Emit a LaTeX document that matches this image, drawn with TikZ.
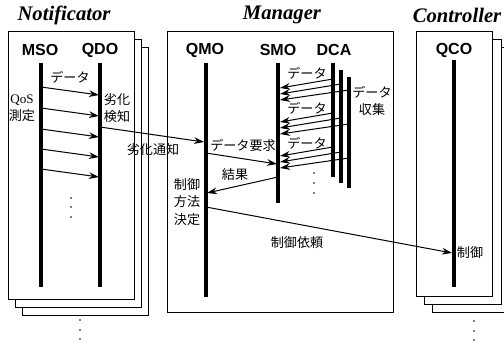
\documentclass[tikz,border=0pt]{standalone}
\usepackage{fontspec}
\setmainfont{Liberation Serif}
\setsansfont{Liberation Sans}
\newfontfamily\jpfont{Noto Sans CJK JP}
\usepackage{tikz}
\usetikzlibrary{arrows.meta}
\tikzset{every picture/.style={line width=0.75pt}}
\tikzset{
	panel/.style={draw, fill=white, line width=0.75pt},
	life/.style={line width=2.5pt},
	msg/.style={-{Stealth[length=7.5pt,width=5pt]}, line width=0.75pt},
	title/.style={font=\fontsize{15.5}{17}\selectfont\bfseries\itshape},
	obj/.style={font=\fontsize{12}{14}\selectfont\sffamily\bfseries},
	jp/.style={font=\fontsize{9.8}{12.8}\selectfont\jpfont, align=center, inner sep=1pt}
}

\begin{document}
\begin{tikzpicture}[x=0.75pt,y=0.75pt,yscale=-1,xscale=1]
	\useasboundingbox (0,0) rectangle (504,346);
	
	%Shape: Rectangle [Notificator stack]
	\draw[panel] (22,48) rectangle (148,315);
	\draw[panel] (15,40) rectangle (141,307);
	\draw[panel] (8,32) rectangle (134,299);
	%Shape: Rectangle [Manager]
	\draw[panel] (167,32) rectangle (393,312);
	%Shape: Rectangle [Controller stack]
	\draw[panel] (504,48) -- (432,48) -- (432,312) -- (504,312);
	\draw[panel] (424,40) rectangle (501,304);
	\draw[panel] (416,32) rectangle (492,296);
	
	% Title Nodes
	\node[title] (ntitle) at (64,15) {Notificator};
	\node[title] (mtitle) at (282,15) {Manager};
	\node[title] (ctitle) at (457,15) {Controller};
	
	% Object Nodes
	\node[obj] (mso) at (40,50) {MSO};
	\node[obj] (qdo) at (100,50) {QDO};
	\node[obj] (qmo) at (205,50) {QMO};
	\node[obj] (smo) at (278,50) {SMO};
	\node[obj] (dca) at (334,50) {DCA};
	\node[obj] (qco) at (454,50) {QCO};
	
	%Straight Lines [lifelines]
	\coordinate (mso top) at (41,63);   \coordinate (mso bot) at (41,287);
	\coordinate (qdo top) at (100,63);  \coordinate (qdo bot) at (100,287);
	\coordinate (qmo top) at (206,63);  \coordinate (qmo bot) at (206,297);
	\coordinate (smo top) at (278,63);  \coordinate (smo bot) at (278,203);
	\coordinate (dca1 top) at (333,63); \coordinate (dca1 bot) at (333,177);
	\coordinate (dca2 top) at (341,70); \coordinate (dca2 bot) at (341,183);
	\coordinate (dca3 top) at (349,77); \coordinate (dca3 bot) at (349,188);
	\coordinate (qco top) at (454,60);  \coordinate (qco bot) at (454,287);
	\draw[life] (mso top) -- (mso bot);
	\draw[life] (qdo top) -- (qdo bot);
	\draw[life] (qmo top) -- (qmo bot);
	\draw[life] (smo top) -- (smo bot);
	\draw[life] (dca1 top) -- (dca1 bot);
	\draw[life] (dca2 top) -- (dca2 bot);
	\draw[life] (dca3 top) -- (dca3 bot);
	\draw[life] (qco top) -- (qco bot);
	
	%Straight Lines [MSO -> QDO]
	\coordinate (n1a) at (41,87);  \coordinate (n1b) at (99,95);
	\coordinate (n2a) at (41,108); \coordinate (n2b) at (99,116);
	\coordinate (n3a) at (41,129); \coordinate (n3b) at (99,137);
	\coordinate (n4a) at (41,149); \coordinate (n4b) at (99,157);
	\coordinate (n5a) at (41,169); \coordinate (n5b) at (99,177);
	\draw[msg] (n1a) -- (n1b);
	\draw[msg] (n2a) -- (n2b);
	\draw[msg] (n3a) -- (n3b);
	\draw[msg] (n4a) -- (n4b);
	\draw[msg] (n5a) -- (n5b);
	
	%Straight Lines [DCA -> SMO]
	\coordinate (g1a) at (333,79);  \coordinate (g1b) at (280,88);
	\coordinate (g2a) at (341,84);  \coordinate (g2b) at (280,94);
	\coordinate (g3a) at (349,90);  \coordinate (g3b) at (280,100);
	\coordinate (g4a) at (333,113); \coordinate (g4b) at (280,122);
	\coordinate (g5a) at (341,118); \coordinate (g5b) at (280,128);
	\coordinate (g6a) at (349,124); \coordinate (g6b) at (280,134);
	\coordinate (g7a) at (333,147); \coordinate (g7b) at (280,156);
	\coordinate (g8a) at (341,152); \coordinate (g8b) at (280,162);
	\coordinate (g9a) at (349,158); \coordinate (g9b) at (280,168);
	\draw[msg] (g1a) -- (g1b);
	\draw[msg] (g2a) -- (g2b);
	\draw[msg] (g3a) -- (g3b);
	\draw[msg] (g4a) -- (g4b);
	\draw[msg] (g5a) -- (g5b);
	\draw[msg] (g6a) -- (g6b);
	\draw[msg] (g7a) -- (g7b);
	\draw[msg] (g8a) -- (g8b);
	\draw[msg] (g9a) -- (g9b);
	
	%Straight Lines [between objects]
	\coordinate (warn a) at (100,127); \coordinate (warn b) at (204,142);
	\coordinate (req a) at (206,153);  \coordinate (req b) at (277,164);
	\coordinate (res a) at (278,177);  \coordinate (res b) at (207,193);
	\coordinate (ctl a) at (206,207);  \coordinate (ctl b) at (452,253);
	\draw[msg] (warn a) -- (warn b);
	\draw[msg] (req a) -- (req b);
	\draw[msg] (res a) -- (res b);
	\draw[msg] (ctl a) -- (ctl b);
	
	% Text Node
	\node[jp] (data n) at (70,77) {データ};
	\node[jp] (qos) at (22,108) {{\rmfamily QoS}\\測定};
	\node[jp] (detect) at (117,108) {劣化\\検知};
	\node[jp] (notify) at (153,150) {劣化通知};
	\node[jp] (data m1) at (307,73) {データ};
	\node[jp] (data m2) at (307,108) {データ};
	\node[jp] (data m3) at (307,143) {データ};
	\node[jp] (collect) at (372,101) {データ\\収集};
	\node[jp] (request) at (243,145) {データ要求};
	\node[jp] (result) at (235,175) {結果};
	\node[jp] (decide) at (187,202) {制御\\方法\\決定};
	\node[jp] (order) at (297,243) {制御依頼};
	\node[jp] (control) at (470,253) {制御};
	
	% Dots
	\fill (71,198) circle (0.9); \fill (71,207) circle (0.9); \fill (71,217) circle (0.9);
	\fill (314,173) circle (0.9); \fill (314,183) circle (0.9); \fill (314,193) circle (0.9);
	\fill (80,320) circle (0.9); \fill (80,330) circle (0.9); \fill (80,339) circle (0.9);
	\fill (474,321) circle (0.9); \fill (474,331) circle (0.9); \fill (474,340) circle (0.9);
	
\end{tikzpicture}
\end{document}
